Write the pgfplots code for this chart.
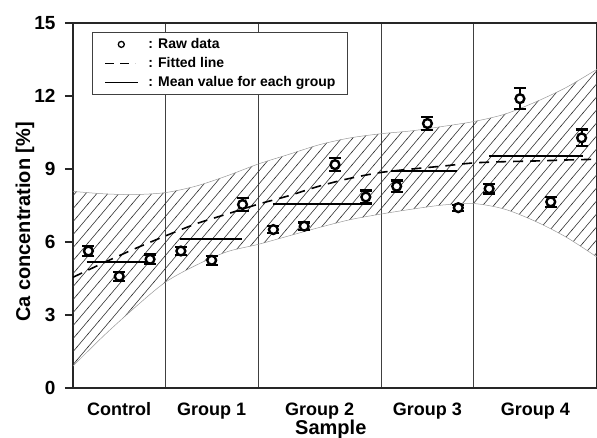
\documentclass[border=0pt]{standalone}
\usepackage{fontspec}
\setmainfont{Liberation Sans}
\usepackage{pgfplots}
\pgfplotsset{compat=1.18}
\usepgfplotslibrary{fillbetween}
\usetikzlibrary{patterns}

\pgfdeclarepatternformonly{hatch}{\pgfqpoint{-1pt}{-1pt}}{\pgfqpoint{12pt}{14pt}}{\pgfqpoint{11pt}{13pt}}{%
  \pgfsetlinewidth{0.6pt}%
  \pgfpathmoveto{\pgfqpoint{-0.5pt}{-0.59pt}}%
  \pgfpathlineto{\pgfqpoint{11.5pt}{13.59pt}}%
  \pgfusepath{stroke}}

\pgfplotstableread{
x y e
1 5.63 0.19
2 4.59 0.19
3 5.29 0.20
4 5.63 0.18
5 5.25 0.18
6 7.54 0.26
7 6.51 0.15
8 6.65 0.15
9 9.18 0.26
10 7.85 0.27
11 8.29 0.24
12 10.87 0.27
13 7.41 0.12
14 8.19 0.20
15 11.89 0.43
16 7.65 0.20
17 10.28 0.34
}\rawdata

\begin{document}
\begin{tikzpicture}
\begin{axis}[name=ax, scale only axis, width=524pt, height=365pt,
  xmin=0.5, xmax=17.5, ymin=0, ymax=15,
  axis line style={line width=1.6pt, black!85},
  ytick={0,3,...,15}, tick align=outside, ytick pos=left,
  major tick length=8pt, tick style={line width=1.4pt, black!85},
  xtick={2,5,8.5,12,15.5},
  xticklabels={Control,Group 1,Group 2,Group 3,Group 4},
  x tick style={draw=none},
  extra x ticks={3.5,6.5,10.5,13.5}, extra x tick labels={},
  extra x tick style={grid=major, major grid style={line width=0.8pt, black!75}, tick style={draw=none}},
  /pgf/number format/assume math mode=true,
  tick label style={font=\fontsize{18}{20}\selectfont\bfseries},
  yticklabel style={anchor=east, xshift=-6pt, font=\fontsize{19}{21}\selectfont\bfseries},
  xticklabel style={anchor=base, yshift=-20pt},
  xlabel={Sample}, ylabel={Ca concentration [\%]},
  label style={font=\fontsize{20}{22}\selectfont\bfseries},
  xlabel style={at={(axis description cs:0.492,-0.127)}, anchor=base},
  ylabel style={at={(axis description cs:-0.067,0.455)}, anchor=south},
  legend style={at={(axis description cs:0.036,0.975)}, anchor=north west,
    draw=black!75, line width=0.9pt, font=\fontsize{14}{16}\selectfont\bfseries,
    inner xsep=10pt, inner ysep=4pt, row sep=3.5pt},
  legend cell align=left,
  clip=true,
]
\addplot[name path=up, draw=gray!80, line width=0.5pt, smooth, forget plot] coordinates {
(0.5,8.08)(1.5,7.98)(2.5,7.95)(3.5,8.03)(4.5,8.3)(5.5,8.72)(6.5,9.2)(7.5,9.6)(8.5,10.0)(9.5,10.28)(10.5,10.45)(11.5,10.57)(12.5,10.75)(13.5,10.95)(14.5,11.25)(15.5,11.75)(16.5,12.35)(17.5,13.1)};
\addplot[name path=lo, draw=gray!80, line width=0.5pt, smooth, forget plot] coordinates {
(0.5,0.9)(1.5,2.15)(2.5,3.3)(3.5,4.35)(4.5,5.05)(5.5,5.6)(6.5,5.9)(7.5,6.25)(8.5,6.6)(9.5,6.92)(10.5,7.15)(11.5,7.35)(12.5,7.52)(13.5,7.58)(14.5,7.35)(15.5,6.85)(16.5,6.2)(17.5,5.38)};
\addplot[pattern=hatch, pattern color=black!80, forget plot] fill between[of=up and lo];

\addplot[black, line width=1.6pt, dash pattern=on 10pt off 7pt, smooth, forget plot] coordinates {
(0.5,4.55)(1.5,5.15)(2.5,5.72)(3.5,6.25)(4.5,6.75)(5.5,7.15)(6.5,7.55)(7.5,7.9)(8.5,8.3)(9.5,8.62)(10.5,8.86)(11.5,9.0)(12.5,9.12)(13.5,9.25)(14.5,9.3)(15.5,9.33)(16.5,9.37)(17.5,9.4)};

\addplot[black, line width=2pt, forget plot] coordinates {(0.94,5.18)(2.92,5.18)};
\addplot[black, line width=2pt, forget plot] coordinates {(3.96,6.14)(5.98,6.14)};
\addplot[black, line width=2pt, forget plot] coordinates {(6.99,7.55)(9.94,7.55)};
\addplot[black, line width=2pt, forget plot] coordinates {(10.81,8.9)(12.97,8.9)};
\addplot[black, line width=2pt, forget plot] coordinates {(14.01,9.54)(17.03,9.54)};

\addplot[forget plot, only marks, mark=*, mark size=4.4pt, mark options={fill=white, draw=black, line width=2.4pt},
  error bars/.cd, y dir=both, y explicit,
  error bar style={line width=2pt, black},
  error mark options={line width=2.2pt, mark size=6pt, black, rotate=90}]
  table[x=x, y=y, y error=e] {\rawdata};

\addlegendimage{legend image code/.code={\path[draw=none,fill=none] (0pt,-1pt) rectangle (44pt,1pt); \draw[black, line width=1.3pt] (19pt,0pt) circle (3pt);}}
\addlegendentry{: Raw data}
\addlegendimage{legend image code/.code={\path[draw=none,fill=none] (0pt,-1pt) rectangle (44pt,1pt); \draw[black, line width=1.5pt, dash pattern=on 9pt off 6pt] (3pt,0pt) -- (33pt,0pt);}}
\addlegendentry{: Fitted line}
\addlegendimage{legend image code/.code={\path[draw=none,fill=none] (0pt,-1pt) rectangle (44pt,1pt); \draw[black, line width=1.2pt] (3pt,0pt) -- (36pt,0pt);}}
\addlegendentry{: Mean value for each group}
\end{axis}
\pgfresetboundingbox
\path[use as bounding box] ([xshift=-73pt,yshift=-50pt]ax.south west) rectangle ([yshift=23pt]ax.north east);
\end{tikzpicture}
\end{document}
